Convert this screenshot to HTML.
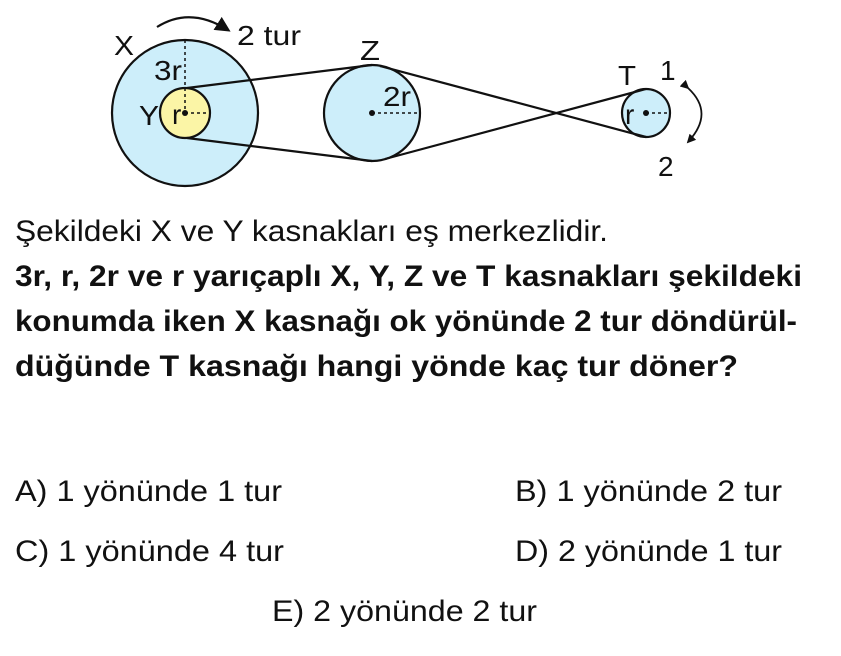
<!DOCTYPE html>
<html><head><meta charset="utf-8"><style>
html,body{margin:0;padding:0;background:#fff;}
svg{display:block;font-family:"Liberation Sans",sans-serif;}
</style></head><body>
<svg width="841" height="656" viewBox="0 0 841 656" xmlns="http://www.w3.org/2000/svg">
<defs>
<marker id="ah" viewBox="0 0 10 10" refX="8" refY="5" markerWidth="7" markerHeight="7" orient="auto"><path d="M0,0 L10,5 L0,10 z" fill="#111"/></marker>
<marker id="sh" viewBox="0 0 10 10" refX="8" refY="5" markerWidth="5" markerHeight="5" orient="auto"><path d="M0,0 L10,5 L0,10 z" fill="#111"/></marker>
</defs>
<g stroke="#111" stroke-width="2.2">
<circle cx="185" cy="113" r="73" fill="#cdeefa"/>
<circle cx="372" cy="113" r="48" fill="#cdeefa"/>
<circle cx="646" cy="113" r="24" fill="#cdeefa"/>
<circle cx="185" cy="113" r="25" fill="#fbf5a6"/>
<line x1="187" y1="88" x2="372" y2="65"/>
<line x1="187" y1="138" x2="372" y2="161"/>
<line x1="380" y1="66" x2="646" y2="137"/>
<line x1="385" y1="159" x2="646" y2="89"/>
</g>
<g stroke="#111" stroke-width="1.5" stroke-dasharray="3,3" fill="none">
<line x1="185" y1="40" x2="185" y2="113"/>
<line x1="185" y1="113" x2="210" y2="113"/>
<line x1="372" y1="113" x2="420" y2="113"/>
<line x1="646" y1="113" x2="670" y2="113"/>
</g>
<circle cx="185" cy="113" r="3" fill="#111"/>
<circle cx="372" cy="113" r="3" fill="#111"/>
<circle cx="646" cy="113" r="3" fill="#111"/>
<path d="M157,27 Q190,6 228,30" stroke="#111" stroke-width="2.2" fill="none" marker-end="url(#ah)"/>
<path d="M688,88 Q715,113 688,142" stroke="#111" stroke-width="1.8" fill="none" marker-start="url(#sh)" marker-end="url(#sh)"/>
<g font-size="28" fill="#111">
<text x="114" y="55" textLength="20" lengthAdjust="spacingAndGlyphs">X</text>
<text x="237" y="45" textLength="64" lengthAdjust="spacingAndGlyphs">2 tur</text>
<text x="360" y="60" textLength="20" lengthAdjust="spacingAndGlyphs">Z</text>
<text x="618" y="85" textLength="18" lengthAdjust="spacingAndGlyphs">T</text>
<text x="660" y="80">1</text>
<text x="658" y="176">2</text>
<text x="154" y="80" textLength="28" lengthAdjust="spacingAndGlyphs">3r</text>
<text x="139" y="125" textLength="20" lengthAdjust="spacingAndGlyphs">Y</text>
<text x="172" y="124">r</text>
<text x="383" y="106" textLength="28" lengthAdjust="spacingAndGlyphs">2r</text>
<text x="625" y="124">r</text>
</g>
<g font-size="30" fill="#111">
<text x="15" y="241" textLength="593" lengthAdjust="spacingAndGlyphs">Şekildeki X ve Y kasnakları eş merkezlidir.</text>
<g font-weight="bold">
<text x="15" y="286" textLength="787" lengthAdjust="spacingAndGlyphs">3r, r, 2r ve r yarıçaplı X, Y, Z ve T kasnakları şekildeki</text>
<text x="15" y="331" textLength="782" lengthAdjust="spacingAndGlyphs">konumda iken X kasnağı ok yönünde 2 tur döndürül-</text>
<text x="15" y="376" textLength="723" lengthAdjust="spacingAndGlyphs">düğünde T kasnağı hangi yönde kaç tur döner?</text>
</g>
<text x="15" y="501" textLength="267" lengthAdjust="spacingAndGlyphs">A) 1 yönünde 1 tur</text>
<text x="515" y="501" textLength="267" lengthAdjust="spacingAndGlyphs">B) 1 yönünde 2 tur</text>
<text x="15" y="561" textLength="269" lengthAdjust="spacingAndGlyphs">C) 1 yönünde 4 tur</text>
<text x="515" y="561" textLength="267" lengthAdjust="spacingAndGlyphs">D) 2 yönünde 1 tur</text>
<text x="272" y="621" textLength="265" lengthAdjust="spacingAndGlyphs">E) 2 yönünde 2 tur</text>
</g>
</svg>
</body></html>
